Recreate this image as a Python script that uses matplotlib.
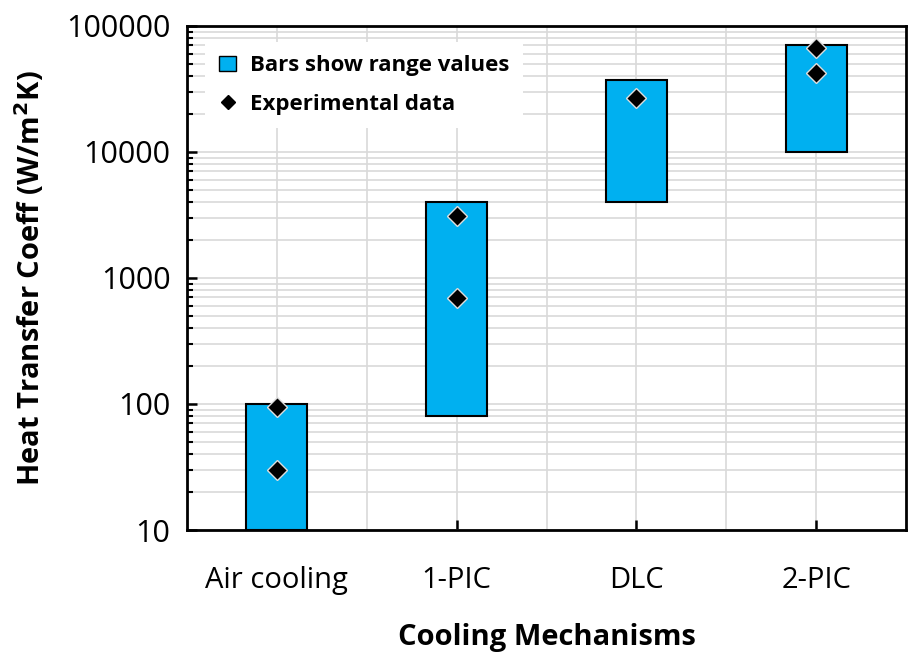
import numpy as np
import matplotlib.pyplot as plt
from matplotlib.patches import Patch
from matplotlib.lines import Line2D
from matplotlib.ticker import LogLocator, FixedLocator, NullFormatter

plt.rcParams['font.family'] = ['Open Sans', 'DejaVu Sans']

# data
categories = ["Air cooling", "1-PIC", "DLC", "2-PIC"]
range_low = [10, 80, 4000, 10000]
range_high = [100, 4000, 37000, 70000]
exp_cat = [0, 0, 1, 1, 2, 3, 3]
exp_vals = [94, 30, 3100, 690, 27000, 67000, 42000]

bar_color = "#00B0F0"

fig = plt.figure(figsize=(9.17, 6.63), dpi=100)
ax = fig.add_axes([0.204, 0.2006, 0.784, 0.7604])

x = np.arange(1, len(categories) + 1)
heights = np.array(range_high) - np.array(range_low)
ax.bar(x, heights, bottom=range_low, width=0.34, color=bar_color,
       edgecolor="black", linewidth=1.5, zorder=3)
ax.plot(x[exp_cat], exp_vals, linestyle="none", marker="D", markersize=10,
        markerfacecolor="black", markeredgecolor="#dddddd", markeredgewidth=1,
        zorder=4)

ax.set_yscale("log")
ax.set_ylim(10, 100000)
ax.set_xlim(0.5, 4.5)

ax.yaxis.set_minor_locator(LogLocator(base=10, subs=np.arange(2, 10), numticks=10))
ax.yaxis.set_minor_formatter(NullFormatter())
ax.set_yticks([10, 100, 1000, 10000, 100000])
ax.set_yticklabels(["10", "100", "1000", "10000", "100000"])
ax.set_xticks(x)
ax.set_xticklabels(categories)
ax.xaxis.set_minor_locator(FixedLocator([1.5, 2.5, 3.5]))

ax.grid(True, which="both", axis="y", color="#d9d9d9", linewidth=1.2, zorder=0)
ax.grid(True, which="both", axis="x", color="#d9d9d9", linewidth=1.2, zorder=0)
ax.set_axisbelow(True)

ax.tick_params(axis="y", which="major", direction="in", length=7, width=1.8,
               labelsize=22, pad=12)
ax.tick_params(axis="y", which="minor", direction="in", length=4, width=1.5)
ax.tick_params(axis="x", which="major", direction="in", length=7, width=1.8,
               labelsize=21, pad=26)
ax.tick_params(axis="x", which="minor", length=0)

for s in ax.spines.values():
    s.set_linewidth(2)

ax.set_ylabel("Heat Transfer Coeff (W/m$^\\mathbf{2}$K)", fontsize=21,
              fontweight="bold", labelpad=14)
ax.set_xlabel("Cooling Mechanisms", fontsize=21, fontweight="bold", labelpad=20)

handles = [
    Patch(facecolor=bar_color, edgecolor="black", linewidth=1),
    Line2D([], [], linestyle="none", marker="D", markersize=7,
           markerfacecolor="black", markeredgecolor="black"),
]
leg = ax.legend(handles, ["Bars show range values", "Experimental data"],
                loc="upper left", bbox_to_anchor=(0.01, 0.99),
                prop={"weight": "bold", "size": 16}, frameon=True,
                fancybox=False, edgecolor="none", framealpha=1,
                handlelength=0.8, handletextpad=0.6, labelspacing=0.8,
                borderpad=0.6)
leg.set_zorder(5)

fig.savefig("out.png", dpi=100)
